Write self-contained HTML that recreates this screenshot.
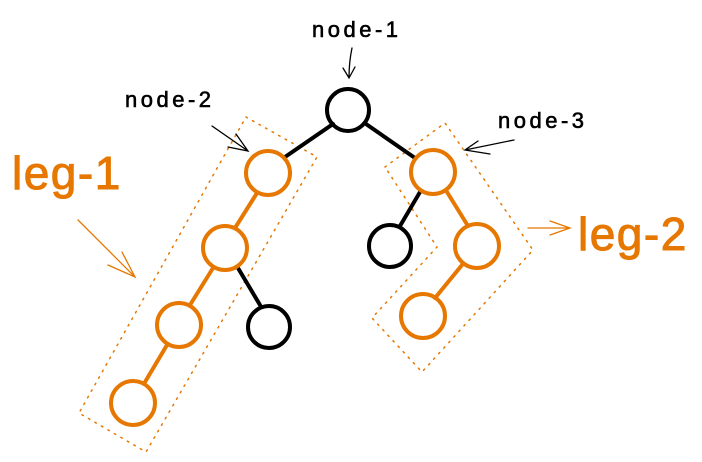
<!DOCTYPE html>
<html><head><style>
html,body{margin:0;padding:0;background:#fff;width:702px;height:462px;overflow:hidden}
text{font-family:"Liberation Sans",sans-serif}
</style></head><body>
<svg width="702" height="462" viewBox="0 0 702 462" xmlns="http://www.w3.org/2000/svg">
<g fill="none" stroke-linecap="round">
<polygon points="246,117 317,157 146,452 79,413" stroke="#e67700" stroke-width="1.5" stroke-dasharray="1.5 6"/>
<polygon points="385,167 445,123 533,250 422,372 372,318 437,247" stroke="#e67700" stroke-width="1.5" stroke-dasharray="1.5 6"/>
<g stroke="#000" stroke-width="4">
<line x1="333" y1="124" x2="285" y2="157"/>
<line x1="366" y1="124" x2="415" y2="158"/>
<line x1="420" y1="192" x2="400" y2="226"/>
<line x1="238" y1="268" x2="260" y2="305"/>
</g>
<g stroke="#e67700" stroke-width="4">
<line x1="257" y1="193" x2="235" y2="228"/>
<line x1="213" y1="268" x2="190" y2="305"/>
<line x1="167" y1="345" x2="145" y2="382"/>
<line x1="447" y1="192" x2="468" y2="226"/>
<line x1="462" y1="265" x2="435" y2="298"/>
</g>
<g stroke="#000" stroke-width="4">
<circle cx="348" cy="110" r="21"/>
<circle cx="390" cy="246" r="21"/>
<circle cx="269" cy="327" r="21"/>
</g>
<g stroke="#e67700" stroke-width="4">
<circle cx="268" cy="173" r="22"/>
<circle cx="433" cy="172" r="22"/>
<circle cx="225" cy="248" r="22"/>
<circle cx="477" cy="246" r="22"/>
<circle cx="179" cy="325" r="22"/>
<circle cx="423" cy="316" r="22"/>
<circle cx="133" cy="403" r="22"/>
</g>
<g stroke="#000" stroke-width="1.3">
<path d="M352 48 Q349 62 349 78 M343 68 L349 78 L355 67"/>
<path d="M212 126 L248 151 M236 134 L248 151 L228 147"/>
<path d="M514 140 L465 150 M478 141 L465 150 L490 154"/>
</g>
<g stroke="#e67700" stroke-width="1.3">
<path d="M78 220 L135 277 M122 252 L135 277 L108 265"/>
<path d="M528 228 L570 228 M550 221 L570 228 L550 235"/>
</g>
</g>
<g font-size="22" fill="#000" stroke="#000" stroke-width="0.6" letter-spacing="3.5">
<text x="312" y="37">node-1</text>
<text x="125" y="107">node-2</text>
<text x="498" y="128">node-3</text>
</g>
<g font-size="46" fill="#e67700" stroke="#e67700" stroke-width="1" letter-spacing="1.5">
<text x="12" y="189">leg-1</text>
<text x="578" y="250">leg-2</text>
</g>
</svg>
</body></html>
